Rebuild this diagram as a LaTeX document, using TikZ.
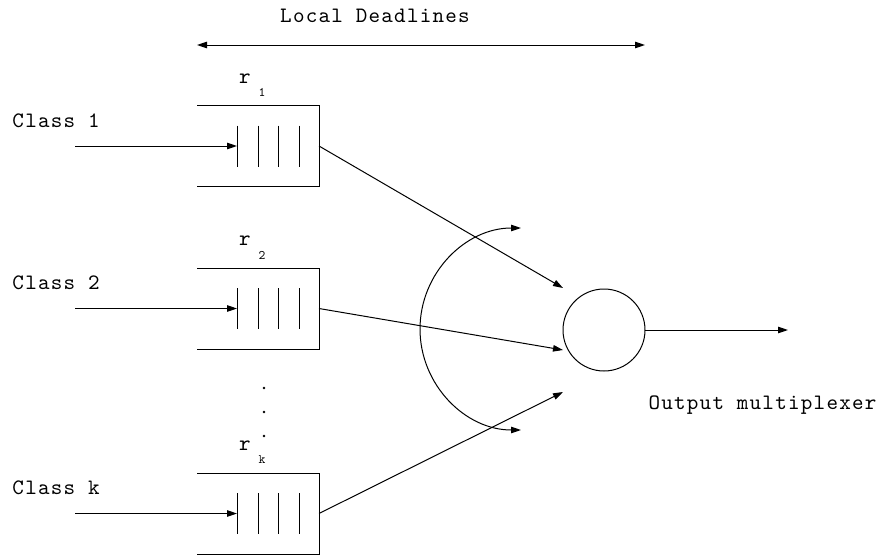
\documentclass[tikz,border=0pt]{standalone}
\usepackage{fontspec}
\setmainfont{lmmono10-regular.otf}[LetterSpace=5.7]
\usetikzlibrary{arrows.meta}
\begin{document}
\begin{tikzpicture}[x=1pt,y=-1pt,line width=1pt,>={Triangle[length=10pt,width=6.5pt]}]
\tikzset{
  qbox/.style={minimum width=122pt,minimum height=81pt,inner sep=0pt,outer sep=0pt},
  lbl/.style={font=\fontsize{22}{24}\selectfont,inner sep=0pt},
  sublbl/.style={font=\fontsize{13}{14}\selectfont,inner sep=0pt},
  conn/.style={->},
  mux/.style={circle,draw,minimum size=82pt,inner sep=0pt,outer sep=0pt},
}
\useasboundingbox (0,0) rectangle (882,554);
% title
\node[lbl] (title) at (375,16) {Local Deadlines};
\coordinate (dl) at (197,45);
\coordinate (dr) at (645,45);
\draw[<->] (dl) -- (dr);
% multiplexer
\node[mux] (m) at (604,330) {};
\node[lbl,anchor=west] (mlabel) at (648,405) {Output multiplexer};
\coordinate (out) at (788,330);
\draw[conn] (m.east) -- (out);
% queues
\foreach \n/\cy/\top/\lab in {1/146/105.5/1, 2/308.5/268/2, k/513.5/473/k}{
  \node[qbox] (q\n) at (258,\cy) {};
  \draw (q\n.north west) -- (q\n.north east) -- (q\n.south east) -- (q\n.south west);
  \foreach \dx in {-21,0,20,41}{
    \draw ([xshift=\dx pt,yshift=20.5pt]q\n.center) -- ([xshift=\dx pt,yshift=-20.5pt]q\n.center);
  }
  \coordinate (bar\n) at ([xshift=-21pt]q\n.center);
  \coordinate (in\n) at (75,\cy);
  \draw[conn] (in\n) -- (bar\n);
  \node[lbl] (r\n) at (245,\top-27) {r};
  \node[sublbl] (s\n) at (262,\top-13) {\lab};
  \node[lbl,anchor=west] (c\n) at (12,\top+15) {Class \lab};
}
\coordinate (t1) at (563,288);
\coordinate (t2) at (563,350);
\coordinate (tk) at (563,392);
\draw[conn] (q1.east) -- (t1);
\draw[conn] (q2.east) -- (t2);
\draw[conn] (qk.east) -- (tk);
% dots
\foreach \yy in {388,412,436}{\fill (264,\yy) circle[radius=1.4pt];}
% arc
\coordinate (atop) at (521,228);
\draw[<->] (atop) arc[start angle=270,end angle=90,radius=101];
\end{tikzpicture}
\end{document}
